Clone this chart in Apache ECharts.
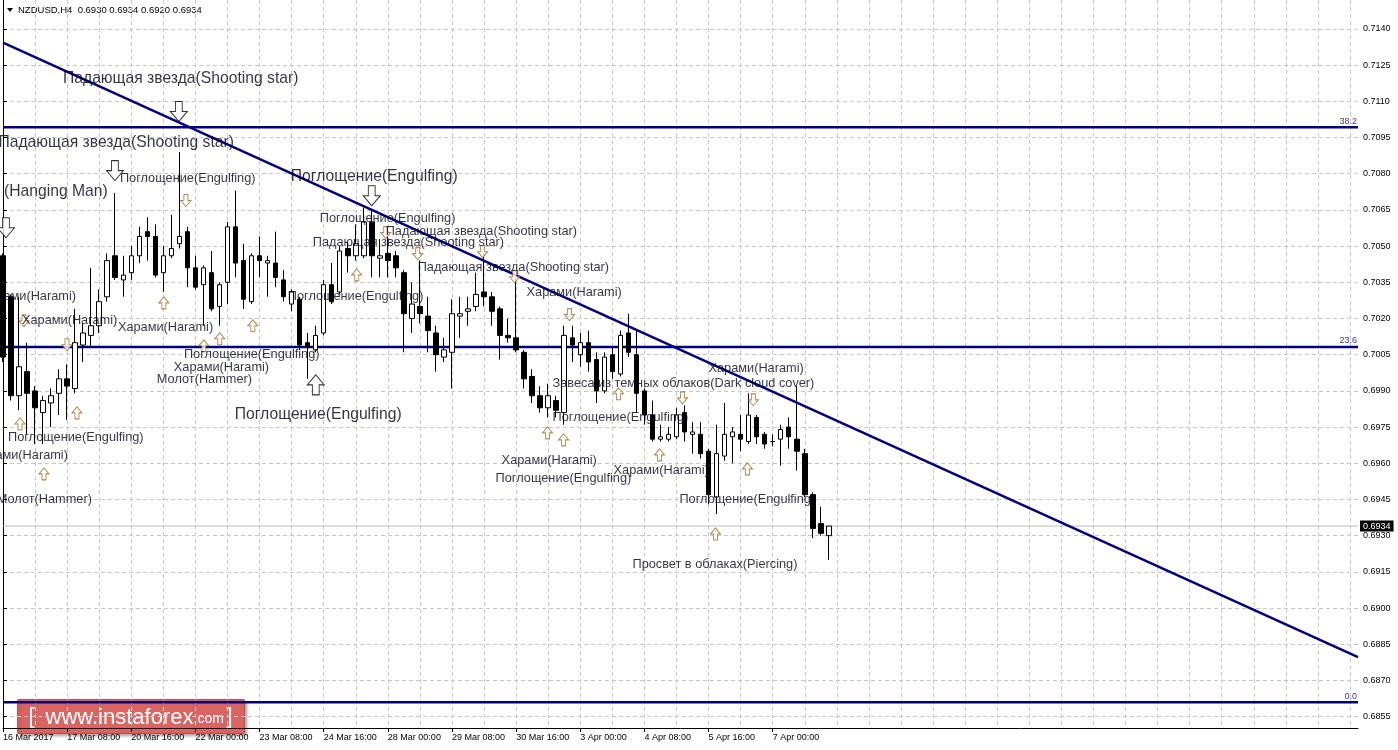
<!DOCTYPE html>
<html>
<head>
<meta charset="utf-8">
<title>NZDUSD H4</title>
<script src="https://cdn.jsdelivr.net/npm/echarts@6/dist/echarts.min.js"></script>
<style>
html, body { margin: 0; padding: 0; background: #fff; }
#chart { width: 1398px; height: 750px; }
</style>
</head>
<body>
<div id="chart"></div>
<script>
// number of H4 slots on the time axis (candles + empty space on the right)
const slotCount = 170;

// time axis labels, one every 8 bars
const timeLabels = ['16 Mar 2017', '17 Mar 08:00', '20 Mar 16:00', '22 Mar 00:00', '23 Mar 08:00',
  '24 Mar 16:00', '28 Mar 00:00', '29 Mar 08:00', '30 Mar 16:00', '3 Apr 00:00', '4 Apr 08:00',
  '5 Apr 16:00', '7 Apr 00:00'];

const priceTicks = [0.6855, 0.6870, 0.6885, 0.6900, 0.6915, 0.6930, 0.6945, 0.6960, 0.6975, 0.6990,
  0.7005, 0.7020, 0.7035, 0.7050, 0.7065, 0.7080, 0.7095, 0.7110, 0.7125, 0.7140];

// [open, close, low, high]
const candles = [
  [0.7046, 0.7004, 0.7002, 0.7047], [0.7029, 0.6988, 0.6986, 0.7030], [0.6988, 0.7000, 0.6982, 0.7029],
  [0.6998, 0.6989, 0.6972, 0.7010], [0.6990, 0.6983, 0.6968, 0.6992], [0.6981, 0.6986, 0.6968, 0.6988],
  [0.6985, 0.6988, 0.6975, 0.6991], [0.6989, 0.6995, 0.6980, 0.6999], [0.6995, 0.6992, 0.6978, 0.7001],
  [0.6991, 0.7010, 0.6989, 0.7024], [0.7009, 0.7014, 0.7002, 0.7018], [0.7013, 0.7017, 0.7008, 0.7041],
  [0.7017, 0.7027, 0.7014, 0.7032], [0.7029, 0.7044, 0.7027, 0.7047], [0.7046, 0.7037, 0.7036, 0.7072],
  [0.7036, 0.7038, 0.7029, 0.7046], [0.7039, 0.7046, 0.7036, 0.7050], [0.7046, 0.7054, 0.7043, 0.7058],
  [0.7056, 0.7054, 0.7044, 0.7062], [0.7054, 0.7038, 0.7037, 0.7059], [0.7039, 0.7046, 0.7031, 0.7050],
  [0.7046, 0.7049, 0.7045, 0.7063], [0.7051, 0.7054, 0.7049, 0.7089], [0.7056, 0.7041, 0.7033, 0.7058],
  [0.7041, 0.7033, 0.7032, 0.7046], [0.7034, 0.7041, 0.7017, 0.7042], [0.7039, 0.7024, 0.7023, 0.7048],
  [0.7025, 0.7034, 0.7017, 0.7035], [0.7035, 0.7058, 0.7026, 0.7060], [0.7058, 0.7043, 0.7037, 0.7073],
  [0.7044, 0.7028, 0.7024, 0.7051], [0.7027, 0.7046, 0.7026, 0.7047], [0.7046, 0.7044, 0.7037, 0.7054],
  [0.7043, 0.7044, 0.7029, 0.7046], [0.7043, 0.7037, 0.7033, 0.7056], [0.7036, 0.7029, 0.7027, 0.7040],
  [0.7026, 0.7031, 0.7023, 0.7032], [0.7028, 0.7009, 0.7007, 0.7029], [0.7010, 0.7008, 0.6995, 0.7014],
  [0.7007, 0.7013, 0.7006, 0.7017], [0.7014, 0.7034, 0.7013, 0.7036], [0.7034, 0.7027, 0.7026, 0.7043],
  [0.7031, 0.7048, 0.7030, 0.7050], [0.7049, 0.7046, 0.7039, 0.7052], [0.7046, 0.7051, 0.7044, 0.7059],
  [0.7046, 0.7060, 0.7045, 0.7066], [0.7060, 0.7046, 0.7037, 0.7065], [0.7045, 0.7046, 0.7037, 0.7053],
  [0.7047, 0.7044, 0.7037, 0.7054], [0.7046, 0.7041, 0.7037, 0.7048], [0.7039, 0.7022, 0.7006, 0.7040],
  [0.7020, 0.7026, 0.7014, 0.7035], [0.7025, 0.7022, 0.7018, 0.7044], [0.7021, 0.7015, 0.7006, 0.7029],
  [0.7014, 0.7005, 0.6998, 0.7017], [0.7004, 0.7007, 0.7002, 0.7012], [0.7006, 0.7022, 0.6991, 0.7028],
  [0.7021, 0.7022, 0.7012, 0.7029], [0.7023, 0.7024, 0.7017, 0.7029], [0.7025, 0.7030, 0.7023, 0.7039],
  [0.7031, 0.7029, 0.7025, 0.7047], [0.7029, 0.7023, 0.7017, 0.7031], [0.7024, 0.7013, 0.7003, 0.7025],
  [0.7013, 0.7012, 0.7010, 0.7020], [0.7012, 0.7007, 0.7006, 0.7037], [0.7006, 0.6995, 0.6991, 0.7007],
  [0.6996, 0.6988, 0.6985, 0.6999], [0.6988, 0.6983, 0.6981, 0.6992], [0.6983, 0.6988, 0.6979, 0.6993],
  [0.6986, 0.6982, 0.6979, 0.6988], [0.6981, 0.7013, 0.6976, 0.7017], [0.7012, 0.7009, 0.7002, 0.7017],
  [0.7005, 0.7010, 0.7000, 0.7014], [0.7010, 0.7002, 0.6998, 0.7015], [0.7003, 0.6990, 0.6985, 0.7006],
  [0.6990, 0.7004, 0.6989, 0.7006], [0.7005, 0.6998, 0.6995, 0.7008], [0.6997, 0.7013, 0.6996, 0.7015],
  [0.7014, 0.7006, 0.7004, 0.7022], [0.7005, 0.6989, 0.6981, 0.7015], [0.6990, 0.6980, 0.6976, 0.6991],
  [0.6980, 0.6970, 0.6969, 0.6986], [0.6970, 0.6971, 0.6969, 0.6976], [0.6970, 0.6972, 0.6969, 0.6975],
  [0.6971, 0.6980, 0.6970, 0.6983], [0.6981, 0.6973, 0.6969, 0.6984], [0.6972, 0.6973, 0.6964, 0.6977],
  [0.6972, 0.6964, 0.6962, 0.6977], [0.6965, 0.6947, 0.6943, 0.6966], [0.6946, 0.6964, 0.6939, 0.6976],
  [0.6963, 0.6972, 0.6961, 0.6985], [0.6971, 0.6973, 0.6960, 0.6975], [0.6972, 0.6970, 0.6965, 0.6980],
  [0.6969, 0.6980, 0.6968, 0.6989], [0.6979, 0.6971, 0.6968, 0.6980], [0.6972, 0.6968, 0.6966, 0.6973],
  [0.6969, 0.6969, 0.6967, 0.6972], [0.6970, 0.6974, 0.6959, 0.6976], [0.6975, 0.6971, 0.6966, 0.6979],
  [0.6970, 0.6965, 0.6957, 0.6992], [0.6964, 0.6947, 0.6946, 0.6966], [0.6947, 0.6933, 0.6929, 0.6948],
  [0.6935, 0.6931, 0.6930, 0.6942], [0.6930, 0.6934, 0.6920, 0.6934]
];

const lastPrice = 0.6934;
const fibLevels = [0.6861, 0.70082, 0.70993];
const fibNames = ['0.0', '23.6', '38.2'];
const trendLine = [[0, 0.71343], [169, 0.68797]];

// pattern labels: [text, bar, price]
const bigLabels = [
  ['Падающая звезда(Shooting star)', 7.48, 0.71195],
  ['(Hanging Man)', 0.12, 0.70726],
  ['Поглощение(Engulfing)', 35.9, 0.70788],
  ['Поглощение(Engulfing)', 28.9, 0.69801]
];
const bigLabelsCut = [
  ['Падающая звезда(Shooting star)', 28.8, 0.70929]
];
const labels = [
  ['Поглощение(Engulfing)', 14.58, 0.70780],
  ['Поглощение(Engulfing)', 39.51, 0.70614],
  ['Падающая звезда(Shooting star)', 47.73, 0.70560],
  ['Падающая звезда(Shooting star)', 38.63, 0.70514],
  ['Падающая звезда(Shooting star)', 51.72, 0.70411],
  ['Харами(Harami)', 65.3, 0.70307],
  ['Харами(Harami)', 2.37, 0.70191],
  ['Харами(Harami)', 14.33, 0.70162],
  ['Поглощение(Engulfing)', 35.52, 0.70290],
  ['Поглощение(Engulfing)', 22.56, 0.70050],
  ['Харами(Harami)', 21.31, 0.69996],
  ['Молот(Hammer)', 19.19, 0.69946],
  ['Поглощение(Engulfing)', 0.62, 0.69705],
  ['Завеса из темных облаков(Dark cloud cover)', 68.54, 0.69929],
  ['Харами(Harami)', 87.99, 0.69991],
  ['Поглощение(Engulfing)', 68.54, 0.69788],
  ['Харами(Harami)', 62.19, 0.69610],
  ['Поглощение(Engulfing)', 61.44, 0.69535],
  ['Харами(Harami)', 76.15, 0.69572],
  ['Поглощение(Engulfing)', 84.37, 0.69452],
  ['Просвет в облаках(Piercing)', 78.51, 0.69182]
];
const labelsCut = [
  ['Харами(Harami)', 9.10, 0.70290],
  ['Харами(Harami)', 8.10, 0.69631],
  ['Молот(Hammer)', 11.09, 0.69448]
];

// arrow marks: [bar, price]
const bigDownArrows = [[21.93, 0.71058], [13.96, 0.70813], [0.37, 0.70576], [45.99, 0.70709]];
const bigUpArrows = [[39.01, 0.69925]];
const downArrows = [[22.81, 0.70689], [47.73, 0.70556], [51.72, 0.70469], [59.82, 0.70477],
  [63.81, 0.70373], [70.66, 0.70216], [7.98, 0.70091], [2.62, 0.70191], [84.75, 0.69871],
  [93.59, 0.69863]];
const upArrows = [[2.12, 0.69763], [5.11, 0.69556], [9.22, 0.69809], [20.06, 0.70265],
  [25.05, 0.70087], [27.04, 0.70116], [31.16, 0.70170], [44.12, 0.70381], [67.92, 0.69726],
  [69.92, 0.69697], [76.77, 0.69888], [81.88, 0.69635], [92.85, 0.69577], [88.86, 0.69307]];

const FONT = "'Liberation Sans', Arial, sans-serif";
const NAVY = '#000080';
const GRID = '#c8c8c8';
const TEXT = '#000018';
const yMin = 0.68503, yMax = 0.71520;

const downPath = 'path://M3,0 L7,0 L7,6 L10,6 L5,12 L0,6 L3,6 Z';
const upPath = 'path://M5,0 L10,6 L7,6 L7,12 L3,12 L3,6 L0,6 Z';

const slots = [];
for (let i = 0; i < slotCount; i++) slots.push(String(i));

function textSeries(list, size, side) {
  return {
    type: 'scatter', xAxisIndex: 1, yAxisIndex: 0, silent: true, z: 5,
    symbolSize: 0, itemStyle: { color: 'transparent' },
    emphasis: { disabled: true },
    label: {
      show: true, position: side, distance: 0, formatter: '{b}',
      fontFamily: FONT, fontSize: size, color: TEXT
    },
    data: list.map(d => ({ name: d[0], value: [d[1], d[2]] }))
  };
}

function arrowSeries(list, path, size, stroke) {
  return {
    type: 'scatter', xAxisIndex: 1, yAxisIndex: 0, silent: true, z: 4,
    symbol: path, symbolSize: size,
    itemStyle: { color: '#fff', borderColor: stroke, borderWidth: 1 },
    emphasis: { disabled: true },
    data: list
  };
}

function levelSeries(value, color, width, label) {
  return {
    type: 'line', xAxisIndex: 1, yAxisIndex: 0, silent: true, z: 2, symbol: 'none',
    data: [[0, value], [slotCount - 1, value]],
    lineStyle: { color: color, width: width },
    endLabel: label
  };
}

const chart = echarts.init(document.getElementById('chart'));

chart.setOption({
  animation: false,
  backgroundColor: '#fff',
  grid: { left: 2, right: 40, top: 0, bottom: 22 },
  xAxis: [
    {
      type: 'category', data: slots, boundaryGap: false,
      axisLine: { lineStyle: { color: '#000', width: 1 } },
      axisTick: {
        show: true, length: 4, lineStyle: { color: '#000' },
        interval: i => i % 8 === 0 && i / 8 < timeLabels.length
      },
      axisLabel: {
        interval: i => i % 8 === 0 && i / 8 < timeLabels.length,
        formatter: (v, i) => timeLabels[i / 8] || '',
        align: 'left', margin: 5, fontFamily: FONT, fontSize: 9, color: '#000'
      },
      splitLine: {
        show: true, interval: i => i % 4 === 0,
        lineStyle: { color: GRID, type: [4, 3], width: 1 }
      }
    },
    { type: 'value', min: 0, max: slotCount - 1, show: false }
  ],
  yAxis: [
    {
      type: 'value', position: 'right', min: yMin, max: yMax,
      axisLine: { show: true, lineStyle: { color: '#000' } },
      axisTick: { show: true, length: 4, customValues: priceTicks, lineStyle: { color: '#000' } },
      axisLabel: {
        customValues: priceTicks, formatter: v => v.toFixed(4),
        margin: 5, fontFamily: FONT, fontSize: 9, color: '#000'
      },
      splitLine: { show: true, lineStyle: { color: GRID, type: [4, 3], width: 1 } }
    },
    {
      type: 'value', position: 'left', min: yMin, max: yMax,
      axisLine: { show: true, lineStyle: { color: '#000' } },
      axisTick: { show: false }, axisLabel: { show: false }, splitLine: { show: false }
    }
  ],
  series: [
    levelSeries(lastPrice, '#bdbdbd', 1, {
      show: true, distance: 2, formatter: lastPrice.toFixed(4),
      backgroundColor: '#000', color: '#fff', padding: [1, 3, 1, 3],
      fontFamily: FONT, fontSize: 9
    }),
    {
      type: 'candlestick', xAxisIndex: 0, yAxisIndex: 0, barWidth: 5, z: 3,
      itemStyle: { color: '#fff', color0: '#000', borderColor: '#000', borderColor0: '#000', borderWidth: 1 },
      emphasis: { disabled: true },
      data: candles
    },
    {
      type: 'line', xAxisIndex: 1, yAxisIndex: 0, data: trendLine, symbol: 'none', silent: true, z: 4,
      lineStyle: { color: NAVY, width: 2.5 }
    }
  ].concat(fibLevels.map((v, i) => levelSeries(v, NAVY, 2.5, { show: false }))).concat([
    {
      type: 'scatter', xAxisIndex: 1, yAxisIndex: 0, silent: true, z: 5,
      symbolSize: 0, itemStyle: { color: 'transparent' }, emphasis: { disabled: true },
      label: {
        show: true, position: 'left', distance: 1, formatter: '{b}', offset: [0, -6],
        fontFamily: FONT, fontSize: 9, color: NAVY
      },
      data: fibLevels.map((v, i) => ({ name: fibNames[i], value: [slotCount - 1, v] }))
    },
    arrowSeries(bigDownArrows, downPath, [17, 20], '#000'),
    arrowSeries(bigUpArrows, upPath, [17, 20], '#000'),
    arrowSeries(downArrows, downPath, [10, 12], '#a86a20'),
    arrowSeries(upArrows, upPath, [10, 12], '#a86a20'),
    textSeries(bigLabels, 15.7, 'right'),
    textSeries(bigLabelsCut, 15.7, 'left'),
    textSeries(labels, 12.75, 'right'),
    textSeries(labelsCut, 12.75, 'left')
  ]),
  graphic: [
    { type: 'polygon', shape: { points: [[7, 8], [13, 8], [10, 12]] }, style: { fill: '#000' } },
    {
      type: 'text', left: 18, top: 5,
      style: { text: 'NZDUSD,H4  0.6930 0.6934 0.6920 0.6934', font: '9.5px ' + FONT, fill: '#000' }
    },
    {
      type: 'group', left: 17, top: 699,
      children: [
        {
          type: 'rect', shape: { x: 0, y: 0, width: 227, height: 34, r: 1 },
          style: {
            fill: 'rgba(222,92,92,0.9)', stroke: 'rgba(190,70,70,0.9)', lineWidth: 1,
            shadowBlur: 3, shadowOffsetX: 2, shadowOffsetY: 2, shadowColor: 'rgba(0,0,0,0.35)'
          }
        },
        { type: 'text', style: { text: '[', x: 11, y: 17, fill: '#fff', font: '22px ' + FONT, verticalAlign: 'middle' } },
        { type: 'text', style: { text: 'www.instaforex', x: 28, y: 18, fill: '#fff', font: '22px ' + FONT, verticalAlign: 'middle' } },
        { type: 'text', style: { text: '.com', x: 176, y: 20, fill: '#fff', font: '14px ' + FONT, verticalAlign: 'middle' } },
        { type: 'text', style: { text: ']', x: 209, y: 17, fill: '#fff', font: '22px ' + FONT, verticalAlign: 'middle' } }
      ]
    }
  ]
});
</script>
</body>
</html>
